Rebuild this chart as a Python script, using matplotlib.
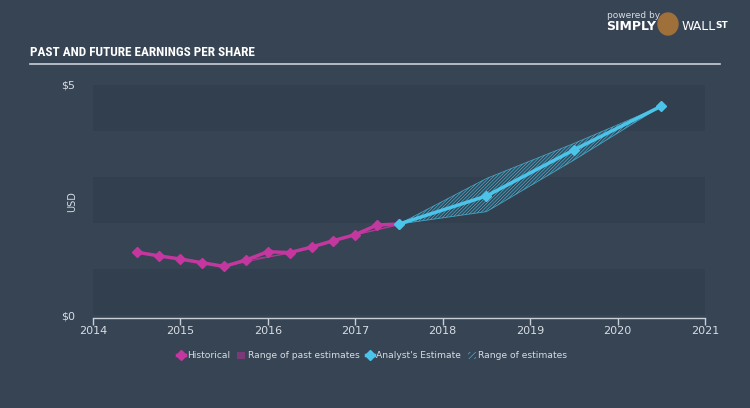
import matplotlib
matplotlib.use("Agg")
from matplotlib import pyplot as plt
from matplotlib.lines import Line2D
from matplotlib.patches import Patch, Ellipse

# Data (EPS in USD)
hist_x = [2014.5, 2014.75, 2015.0, 2015.25, 2015.5, 2015.75, 2016.0, 2016.25,
          2016.5, 2016.75, 2017.0, 2017.25, 2017.5]
hist_y = [1.37, 1.29, 1.22, 1.14, 1.06, 1.20, 1.38, 1.36, 1.48, 1.62, 1.75, 1.96, 1.98]

# past estimate range lines (start, end pairs)
past_est_x = [[2015.5, 2016.25], [2015.75, 2016.25], [2016.75, 2017.5], [2017.0, 2017.5]]
past_est_y = [[1.06, 1.36], [1.20, 1.34], [1.62, 1.98], [1.75, 1.96]]

fc_x = [2017.5, 2018.5, 2019.5, 2020.5]
fc_y = [1.98, 2.59, 3.59, 4.54]
fc_low = [1.98, 2.25, 3.37, 4.54]
fc_high = [1.98, 2.97, 3.73, 4.54]

year_ticks = [2014, 2015, 2016, 2017, 2018, 2019, 2020, 2021]

bg = '#364454'
band = '#323f4e'
magenta = '#c4379f'
cyan = '#4cc3e9'
txt = '#d8dde3'

plt.rcParams['hatch.linewidth'] = 0.4

fig = plt.figure(figsize=(7.5, 4.08), dpi=100, facecolor=bg)
ax = fig.add_axes([93/750, 1-318/408, 612/750, 233/408])
ax.set_facecolor(bg)

# darker horizontal bands
for lo in [0, 2, 4]:
    ax.axhspan(lo, lo + 1, color=band, lw=0, zorder=0)

# range of past estimates
for xs, ys in zip(past_est_x, past_est_y):
    ax.plot(xs, ys, color=magenta, lw=0.8, alpha=0.7, zorder=2)

# range of estimates (hatched)
ax.fill_between(fc_x, fc_low, fc_high, color=cyan, alpha=0.08, linewidth=0, zorder=1)
ax.fill_between(fc_x, fc_low, fc_high, facecolor='none', edgecolor=cyan,
                hatch='//////////', linewidth=0, zorder=2)
ax.plot(fc_x, fc_low, color=cyan, lw=0.6, alpha=0.7, zorder=2)
ax.plot(fc_x, fc_high, color=cyan, lw=0.6, alpha=0.7, zorder=2)

ax.plot(hist_x, hist_y, color=magenta, lw=2.5, marker='D', ms=5, zorder=4)
ax.plot(fc_x, fc_y, color=cyan, lw=2.5, marker='D', ms=5, zorder=5)

ax.set_xlim(2014, 2021)
ax.set_ylim(-0.06, 5)
for s in ['top', 'right', 'left']:
    ax.spines[s].set_visible(False)
ax.spines['bottom'].set_color('#c9cfd6')
ax.spines['bottom'].set_linewidth(1)
ax.set_xticks(year_ticks)
ax.set_xticklabels([str(y) for y in year_ticks])
ax.tick_params(axis='x', colors='#c9cfd6', labelcolor=txt, labelsize=8, length=5, width=1, pad=1)
ax.set_yticks([0, 5])
ax.set_yticklabels(['$0', '$5'])
ax.tick_params(axis='y', length=0, labelcolor=txt, labelsize=8, pad=13)
fig.text(72/750, 1-202/408, 'USD', color=txt, fontsize=7, rotation=90, ha='center', va='center')

# title and rule
fig.text(30/750, 1-52/408, 'PAST AND FUTURE EARNINGS PER SHARE', color='white',
         fontsize=9.5, fontweight='bold',
         family=['Roboto Condensed', 'Liberation Sans Narrow', 'DejaVu Sans Condensed', 'DejaVu Sans'],
         fontstretch='condensed', va='center', ha='left')
fig.add_artist(Line2D([30/750, 720/750], [1-64/408, 1-64/408], color='#c9cfd6', lw=1.2))

# logo text
fig.text(607/750, 1-15/408, 'powered by', color=txt, fontsize=6.5, va='center')
fig.text(606/750, 1-27/408, 'SIMPLY', color='white', fontsize=9, fontweight='bold', va='center')
fig.add_artist(Ellipse((668/750, 1-24/408), 20/750, 22/408, color='#a0703a'))
fig.text(682/750, 1-27/408, 'WALL', color='white', fontsize=9, va='center')
fig.text(715/750, 1-26/408, 'ST', color='white', fontsize=6.5, fontweight='bold', va='center')

# legend
handles = [
    Line2D([], [], color=magenta, lw=2.5, marker='D', ms=5),
    Patch(facecolor='#7a3a78', edgecolor='none'),
    Line2D([], [], color=cyan, lw=2.5, marker='D', ms=5),
    Patch(facecolor='none', edgecolor=cyan, hatch='//////', lw=0),
]
labels = ['Historical', 'Range of past estimates', "Analyst's Estimate", 'Range of estimates']
leg = fig.legend(handles, labels, loc='center', bbox_to_anchor=(372/750, 1-356/408), ncol=4,
                 frameon=False, fontsize=6.6, labelcolor=txt, handlelength=0.9,
                 handletextpad=0.25, columnspacing=0.7)

fig.savefig('out.png', dpi=100, facecolor=bg)
